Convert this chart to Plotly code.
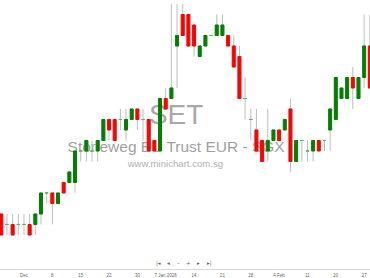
import plotly.graph_objects as go

dates = ["2025-11-25", "2025-11-26", "2025-11-27", "2025-11-28",
         "2025-12-01", "2025-12-02", "2025-12-03", "2025-12-04", "2025-12-05",
         "2025-12-08", "2025-12-09", "2025-12-10", "2025-12-11", "2025-12-12",
         "2025-12-15", "2025-12-16", "2025-12-17", "2025-12-18", "2025-12-19",
         "2025-12-22", "2025-12-23", "2025-12-24", "2025-12-26",
         "2025-12-29", "2025-12-30", "2025-12-31", "2026-01-02",
         "2026-01-05", "2026-01-06", "2026-01-07", "2026-01-08", "2026-01-09",
         "2026-01-12", "2026-01-13", "2026-01-14", "2026-01-15", "2026-01-16",
         "2026-01-19", "2026-01-20", "2026-01-21", "2026-01-22", "2026-01-23",
         "2026-01-26", "2026-01-27", "2026-01-28", "2026-01-29", "2026-01-30",
         "2026-02-02", "2026-02-03", "2026-02-04", "2026-02-05", "2026-02-06",
         "2026-02-09", "2026-02-10", "2026-02-11", "2026-02-12", "2026-02-13",
         "2026-02-16", "2026-02-19", "2026-02-20",
         "2026-02-23", "2026-02-24", "2026-02-25", "2026-02-26", "2026-02-27",
         "2026-03-02"]

opens = [1.42, 1.41, 1.41, 1.41, 1.41, 1.41, 1.41, 1.42, 1.44, 1.44, 1.43, 1.45, 1.45, 1.45,
         1.48, 1.48, 1.48, 1.48, 1.49, 1.51, 1.51, 1.51, 1.50, 1.51, 1.52, 1.51, 1.51,
         1.49, 1.48, 1.53, 1.53, 1.58, 1.61, 1.61, 1.60, 1.57, 1.58, 1.59, 1.59, 1.59,
         1.59, 1.58, 1.57, 1.53, 1.51, 1.50, 1.49, 1.48, 1.49, 1.50, 1.50, 1.52,
         1.47, 1.49, 1.48, 1.48, 1.49, 1.49, 1.50, 1.51, 1.53, 1.53, 1.55, 1.53, 1.55, 1.58]
highs = [1.42, 1.42, 1.42, 1.42, 1.42, 1.42, 1.42, 1.44, 1.44, 1.44, 1.44, 1.45, 1.46, 1.48,
         1.48, 1.49, 1.49, 1.49, 1.51, 1.51, 1.51, 1.52, 1.52, 1.52, 1.52, 1.52, 1.51,
         1.49, 1.53, 1.54, 1.62, 1.62, 1.62, 1.61, 1.60, 1.58, 1.59, 1.59, 1.61, 1.61,
         1.59, 1.59, 1.58, 1.55, 1.52, 1.52, 1.49, 1.52, 1.50, 1.50, 1.51, 1.53,
         1.49, 1.49, 1.49, 1.49, 1.49, 1.49, 1.52, 1.55, 1.54, 1.55, 1.56, 1.55, 1.61, 1.61]
lows = [1.40, 1.40, 1.40, 1.40, 1.40, 1.40, 1.40, 1.41, 1.43, 1.41, 1.43, 1.44, 1.45, 1.44,
        1.47, 1.47, 1.47, 1.47, 1.49, 1.49, 1.49, 1.50, 1.49, 1.51, 1.50, 1.49, 1.48,
        1.48, 1.48, 1.52, 1.53, 1.54, 1.59, 1.58, 1.57, 1.57, 1.58, 1.59, 1.59, 1.59,
        1.58, 1.56, 1.53, 1.51, 1.49, 1.48, 1.47, 1.47, 1.49, 1.49, 1.50, 1.46,
        1.47, 1.47, 1.47, 1.47, 1.48, 1.48, 1.48, 1.51, 1.53, 1.53, 1.52, 1.53, 1.54, 1.54]
closes = [1.40, 1.41, 1.40, 1.41, 1.41, 1.40, 1.42, 1.44, 1.44, 1.43, 1.44, 1.44, 1.46, 1.48,
          1.48, 1.49, 1.48, 1.49, 1.51, 1.50, 1.49, 1.51, 1.51, 1.52, 1.51, 1.51, 1.48,
          1.48, 1.53, 1.52, 1.54, 1.59, 1.59, 1.58, 1.58, 1.58, 1.59, 1.59, 1.60, 1.60,
          1.58, 1.56, 1.53, 1.53, 1.51, 1.48, 1.47, 1.49, 1.50, 1.49, 1.51, 1.47,
          1.49, 1.49, 1.48, 1.49, 1.48, 1.49, 1.52, 1.55, 1.54, 1.55, 1.54, 1.55, 1.58, 1.54]

tick_dates = ["2025-12-01", "2025-12-08", "2025-12-15", "2025-12-22", "2025-12-30",
              "2026-01-07", "2026-01-14", "2026-01-21", "2026-01-28", "2026-02-04",
              "2026-02-11", "2026-02-20", "2026-02-27"]
tick_labels = ["Dec", "8", "15", "22", "30", "7 Jan 2026", "14", "21", "28", "4 Feb",
               "11", "20", "27"]

symbol = "SET"
title = "Stoneweg EU Trust EUR - SGX"
site = "www.minichart.com.sg"
nav_buttons = ["|◂", "◂", "–", "+", "▸", "▸|"]

GREEN = "#008000"
RED = "#ff0000"
WICK = "#bdbdbd"

body_idx = [i for i in range(len(dates)) if opens[i] != closes[i]]
doji_idx = [i for i in range(len(dates)) if opens[i] == closes[i]]

fig = go.Figure()

# watermark text on the base axes (drawn below the overlaid candle axes)
fig.add_trace(go.Scatter(
    x=[0.476, 0.476, 0.474], y=[0.565, 0.45, 0.387],
    mode="text", text=[symbol, title, site],
    textfont=dict(size=[28, 15.5, 9.6], color=["#a8a8a8", "#a0a0a0", "#b0b0b0"],
                  family="Liberation Sans, Arial, sans-serif"),
    hoverinfo="skip", showlegend=False, xaxis="x", yaxis="y"))

# wicks
fig.add_trace(go.Candlestick(
    x=dates, open=opens, high=highs, low=lows, close=closes,
    increasing=dict(line=dict(color=WICK, width=1), fillcolor="rgba(0,0,0,0)"),
    decreasing=dict(line=dict(color=WICK, width=1), fillcolor="rgba(0,0,0,0)"),
    showlegend=False, xaxis="x2", yaxis="y2"))

# bodies
fig.add_trace(go.Candlestick(
    x=[dates[i] for i in body_idx],
    open=[opens[i] for i in body_idx],
    close=[closes[i] for i in body_idx],
    high=[max(opens[i], closes[i]) for i in body_idx],
    low=[min(opens[i], closes[i]) for i in body_idx],
    increasing=dict(line=dict(color=GREEN, width=1), fillcolor=GREEN),
    decreasing=dict(line=dict(color=RED, width=1), fillcolor=RED),
    showlegend=False, xaxis="x2", yaxis="y2"))

# doji marks
fig.add_trace(go.Candlestick(
    x=[dates[i] for i in doji_idx],
    open=[opens[i] for i in doji_idx],
    close=[closes[i] for i in doji_idx],
    high=[opens[i] for i in doji_idx],
    low=[opens[i] for i in doji_idx],
    increasing=dict(line=dict(color="#66b266", width=1), fillcolor="#66b266"),
    decreasing=dict(line=dict(color="#66b266", width=1), fillcolor="#66b266"),
    showlegend=False, xaxis="x2", yaxis="y2"))

annotations = []
for j, b in enumerate(nav_buttons):
    annotations.append(dict(
        x=(158 + 10.2 * j) / 370, y=(269 - 263) / 269, xref="paper", yref="paper",
        text=b, showarrow=False, xanchor="center", yanchor="middle",
        font=dict(size=5.5, color="#666666", family="DejaVu Sans")))

fig.update_layout(
    width=370, height=278,
    margin=dict(l=0, r=0, t=0, b=9),
    paper_bgcolor="white", plot_bgcolor="white",
    showlegend=False,
    boxgap=0.26,
    xaxis=dict(range=[0, 1], visible=False, fixedrange=True),
    yaxis=dict(range=[0, 1], visible=False, fixedrange=True),
    xaxis2=dict(type="category", overlaying="x", side="bottom",
                range=[-0.23, 65.03], rangeslider=dict(visible=False),
                showgrid=False, zeroline=False, showline=True, linecolor="#d8d8d8",
                linewidth=1, ticks="outside", ticklen=2, tickcolor="rgba(0,0,0,0)",
                tickvals=tick_dates, ticktext=tick_labels,
                tickfont=dict(size=4.5, color="#666666", family="Liberation Sans, Arial")),
    yaxis2=dict(overlaying="y", side="left", range=[1.3676, 1.6238],
                showgrid=False, zeroline=False, showticklabels=False, showline=False,
                ticks=""),
    annotations=annotations,
)

fig.write_html("out.html")
